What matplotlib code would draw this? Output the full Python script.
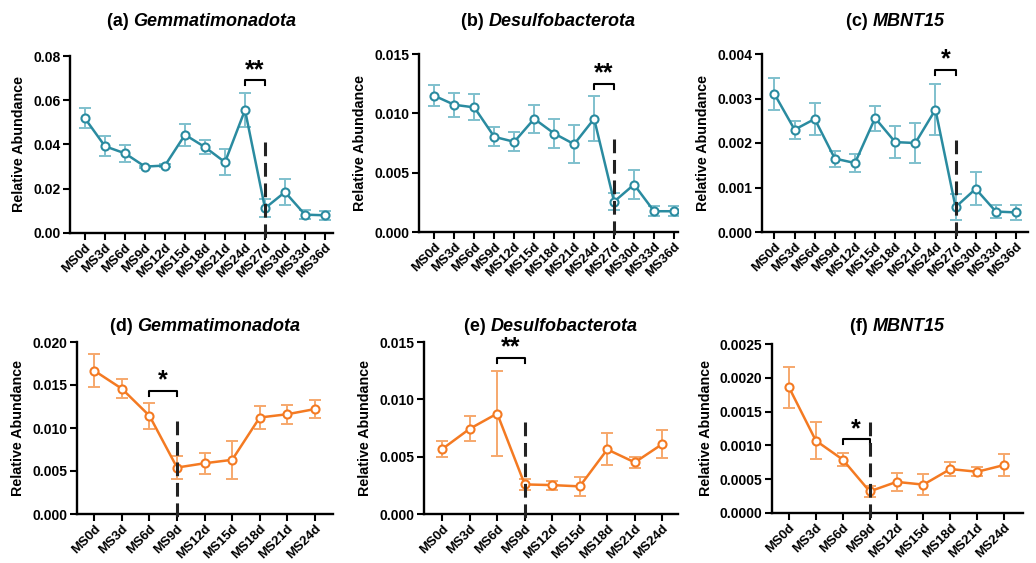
import numpy as np
import matplotlib.pyplot as plt

plt.rcParams['font.family'] = ['Liberation Sans', 'DejaVu Sans']
plt.rcParams['font.weight'] = 'bold'

# ---------------- data ----------------
days_top = ["MS0d", "MS3d", "MS6d", "MS9d", "MS12d", "MS15d", "MS18d",
            "MS21d", "MS24d", "MS27d", "MS30d", "MS33d", "MS36d"]
days_bot = ["MS0d", "MS3d", "MS6d", "MS9d", "MS12d", "MS15d", "MS18d",
            "MS21d", "MS24d"]

gem_top = [0.0518, 0.0392, 0.0360, 0.0300, 0.0305, 0.0444, 0.0388,
           0.0320, 0.0556, 0.0112, 0.0185, 0.0083, 0.0080]
gem_top_err = [0.0045, 0.0045, 0.0040, 0.0005, 0.0008, 0.0050, 0.0033,
               0.0060, 0.0075, 0.0040, 0.0058, 0.0020, 0.0020]

des_top = [0.01148, 0.01072, 0.0105, 0.00802, 0.0076, 0.00954, 0.0083,
           0.0074, 0.00954, 0.00256, 0.0040, 0.00175, 0.00175]
des_top_err = [0.0009, 0.0010, 0.0011, 0.0008, 0.0008, 0.0012, 0.0012,
               0.0016, 0.0019, 0.0007, 0.0012, 0.0004, 0.0004]

mbn_top = [0.0031, 0.0023, 0.00254, 0.00165, 0.00155, 0.00256, 0.00202,
           0.0020, 0.00275, 0.00056, 0.00097, 0.00046, 0.00044]
mbn_top_err = [0.00035, 0.0002, 0.00035, 0.00018, 0.00021, 0.00028, 0.00036,
               0.00045, 0.00057, 0.0003, 0.00037, 0.00015, 0.00017]

gem_bot = [0.01666, 0.01456, 0.01142, 0.0054, 0.0059, 0.0063, 0.01122,
           0.0116, 0.0122]
gem_bot_err = [0.0019, 0.0011, 0.0015, 0.0013, 0.0012, 0.0022, 0.0013,
               0.0011, 0.0010]

des_bot = [0.00566, 0.00743, 0.00876, 0.00258, 0.00252, 0.00241, 0.00563,
           0.0045, 0.0061]
des_bot_err = [0.0007, 0.0011, 0.0037, 0.0005, 0.0004, 0.0008, 0.0014,
               0.0005, 0.0012]

mbn_bot = [0.00186, 0.00107, 0.00079, 0.00032, 0.00046, 0.00042, 0.00065,
           0.00061, 0.00071]
mbn_bot_err = [0.0003, 0.00027, 0.0001, 0.00008, 0.00013, 0.00015, 0.0001,
               0.00007, 0.00016]

TEAL = "#2a8ba0"
TEAL_ERR = "#7fc0cd"
ORANGE = "#f47a22"
ORANGE_ERR = "#f6a86c"

# letter, name, labels, values, err, ymax, ystep, fmt,
# bracket (i0, i1, y), stars, dashed (x, y0, y1), axes rect px, colours, xlim, title baseline px
panels = [
    ("a", "Gemmatimonadota", days_top, gem_top, gem_top_err, 0.08, 0.02, "%.2f",
     (8, 9, 0.069), "**", (9, 0.041, -0.0032), [70, 56, 333, 233], TEAL, TEAL_ERR, (-0.75, 12.4), 26),
    ("b", "Desulfobacterota", days_top, des_top, des_top_err, 0.015, 0.005, "%.3f",
     (8, 9, 0.0125), "**", (9, 0.0078, -0.0007), [419, 54, 678, 232], TEAL, TEAL_ERR, (-0.77, 12.2), 26),
    ("c", "MBNT15", days_top, mbn_top, mbn_top_err, 0.004, 0.001, "%.3f",
     (8, 9, 0.00365), "*", (9, 0.00207, -0.00016), [762, 54, 1028, 232], TEAL, TEAL_ERR, (-0.62, 12.6), 26),
    ("d", "Gemmatimonadota", days_bot, gem_bot, gem_bot_err, 0.020, 0.005, "%.3f",
     (2, 3, 0.0143), "*", (3, 0.0108, -0.0011), [77, 342, 333, 514], ORANGE, ORANGE_ERR, (-0.63, 8.66), 331),
    ("e", "Desulfobacterota", days_bot, des_bot, des_bot_err, 0.015, 0.005, "%.3f",
     (2, 3, 0.0136), "**", (3, 0.0080, -0.0005), [424, 342, 678, 514], ORANGE, ORANGE_ERR, (-0.66, 8.57), 331),
    ("f", "MBNT15", days_bot, mbn_bot, mbn_bot_err, 0.0025, 0.0005, "%.4f",
     (2, 3, 0.00109), "*", (3, 0.00135, -0.0001), [772, 344, 1023, 513], ORANGE, ORANGE_ERR, (-0.63, 8.7), 331),
]

W, H = 1036, 563
fig = plt.figure(figsize=(W / 100, H / 100), dpi=100)
titles = []

for (letter, name, labels, vals, errs, ymax, ystep, fmt, br, stars, dash,
     rect, col, ecol, xl, ty) in panels:
    x0, y0, x1, y1 = rect
    ax = fig.add_axes([x0 / W, 1 - y1 / H, (x1 - x0) / W, (y1 - y0) / H])
    x = np.arange(len(labels))
    ax.errorbar(x, vals, yerr=errs, fmt="none", ecolor=ecol, elinewidth=1.4,
                capsize=4, capthick=1.4, zorder=2)
    ax.plot(x, vals, "-o", color=col, lw=1.8, ms=5.8, mfc="white",
            mec=col, mew=1.5, zorder=3)

    ax.set_xlim(*xl)
    ax.set_ylim(0, ymax)
    yt = np.arange(0, ymax + ystep / 2, ystep)
    ax.set_yticks(yt)
    ax.set_yticklabels([fmt % v for v in yt], fontsize=10, fontweight="bold")
    ax.set_xticks(x)
    ax.set_xticklabels(labels, rotation=45, ha="right", rotation_mode="anchor",
                       fontsize=9.5, fontweight="bold")
    ax.set_ylabel("Relative Abundance", fontsize=10.3, fontweight="bold", labelpad=5)

    for s in ["top", "right"]:
        ax.spines[s].set_visible(False)
    for s in ["left", "bottom"]:
        ax.spines[s].set_linewidth(1.7)
    ax.tick_params(width=1.5, length=5, direction="out", pad=2)
    ax.tick_params(axis="x", pad=1)

    # title: upright letter + bold italic name
    t1 = fig.text(0, 1 - ty / H, "(%s) " % letter, fontsize=13,
                  fontweight="bold", ha="left", va="baseline")
    t2 = fig.text(0, 1 - ty / H, name, fontsize=13, fontweight="bold",
                  fontstyle="italic", ha="left", va="baseline")
    titles.append((t1, t2, (x0 + x1) / 2))

    # significance bracket
    i0, i1, by = br
    tick = ymax * 0.028
    ax.plot([i0, i0, i1, i1], [by - tick, by, by, by - tick], color="black",
            lw=1.5, clip_on=False, zorder=4)
    ax.text((i0 + i1) / 2, by - ymax * 0.01, stars, ha="center", va="bottom",
            fontsize=18, fontweight="bold", color="black")

    # dashed divider
    dx, dy0, dy1 = dash
    ax.plot([dx, dx], [dy0, dy1], color="#222222", lw=2.2,
            dashes=(4.5, 2.2), clip_on=False, zorder=5)

# centre the two-part titles over their axes
fig.canvas.draw()
r = fig.canvas.get_renderer()
for t1, t2, cx in titles:
    w1 = t1.get_window_extent(r).width
    w2 = t2.get_window_extent(r).width
    left = cx - (w1 + w2) / 2
    t1.set_x(left / W)
    t2.set_x((left + w1) / W)

plt.savefig("out.png", dpi=100)
